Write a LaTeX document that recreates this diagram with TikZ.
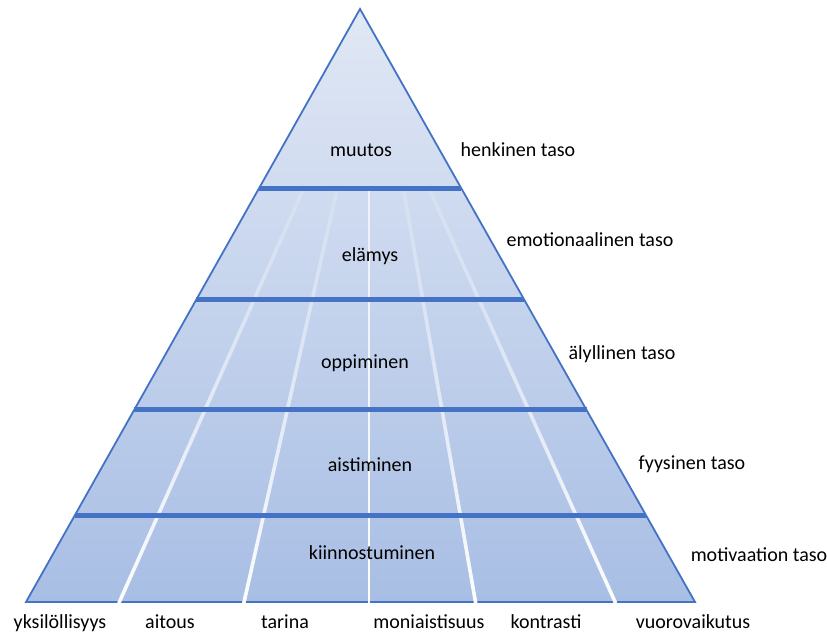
\documentclass[tikz,border=0pt]{standalone}
\usepackage{fontspec}
\setmainfont{Carlito}
\usetikzlibrary{fadings,calc}
\definecolor{edgeblue}{HTML}{4472C4}
\definecolor{filltop}{HTML}{E1E8F5}
\definecolor{fillbot}{HTML}{A8BEE4}
\tikzfading[name=rayfade, top color=transparent!85, bottom color=transparent!0]
\tikzfading[name=centerfade, top color=transparent!35, bottom color=transparent!0]
\begin{document}
\begin{tikzpicture}[x=1pt,y=-1pt,
  lbl/.style={font=\fontsize{20}{24}\selectfont, inner sep=0pt, anchor=base, text=black},
  band/.style={draw=edgeblue, line width=5pt},
  ray/.style={draw=white, line width=3.6pt}]
\useasboundingbox (0,0) rectangle (827,634);
\coordinate (A) at (360,9);
\coordinate (L) at (26,602);
\coordinate (R) at (695,602);
% body
\shade[top color=filltop, bottom color=fillbot] (A) -- (L) -- (R) -- cycle;
\draw[edgeblue, line width=1.8pt, line join=miter] (A) -- (L) -- (R) -- cycle;
% rays
\coordinate (r1t) at (303,190); \coordinate (r1b) at (119,603);
\coordinate (r2t) at (337,190); \coordinate (r2b) at (244,603);
\coordinate (r4t) at (404,190); \coordinate (r4b) at (476,603);
\coordinate (r5t) at (430,190); \coordinate (r5b) at (616,603);
\coordinate (r3t) at (369,190); \coordinate (r3b) at (369,603);
\draw[ray, path fading=rayfade] (r1t) -- (r1b) (r2t) -- (r2b) (r4t) -- (r4b) (r5t) -- (r5b);
\draw[draw=white, line width=2.2pt, path fading=centerfade] (r3t) -- (r3b);
% bands
\foreach \t/\n in {0.3019/1, 0.4907/2, 0.6762/3, 0.8533/4}{
  \coordinate (b\n l) at ($(A)!\t!(L)$);
  \coordinate (b\n r) at ($(A)!\t!(R)$);
  \draw[band] (b\n l) -- (b\n r);
}
% level labels
\node[lbl] (muutos) at (361,156) {muutos};
\node[lbl] (elamys) at (370,261) {elämys};
\node[lbl] (oppiminen) at (365,368) {oppiminen};
\node[lbl] (aistiminen) at (370,471) {aistiminen};
\node[lbl] (kiinnostuminen) at (372,559) {kiinnostuminen};
% side labels
\node[lbl] (henkinen) at (518,156) {henkinen taso};
\node[lbl] (emotionaalinen) at (590,246) {emotionaalinen taso};
\node[lbl] (alyllinen) at (622,359) {älyllinen taso};
\node[lbl] (fyysinen) at (692,469) {fyysinen taso};
\node[lbl] (motivaation) at (759,561) {motivaation taso};
% bottom labels
\node[lbl] (yksilollisyys) at (60,628) {yksilöllisyys};
\node[lbl] (aitous) at (170,628) {aitous};
\node[lbl] (tarina) at (285,628) {tarina};
\node[lbl] (moniaistisuus) at (429,628) {moniaistisuus};
\node[lbl] (kontrasti) at (546,628) {kontrasti};
\node[lbl] (vuorovaikutus) at (693,628) {vuorovaikutus};
\end{tikzpicture}
\end{document}
